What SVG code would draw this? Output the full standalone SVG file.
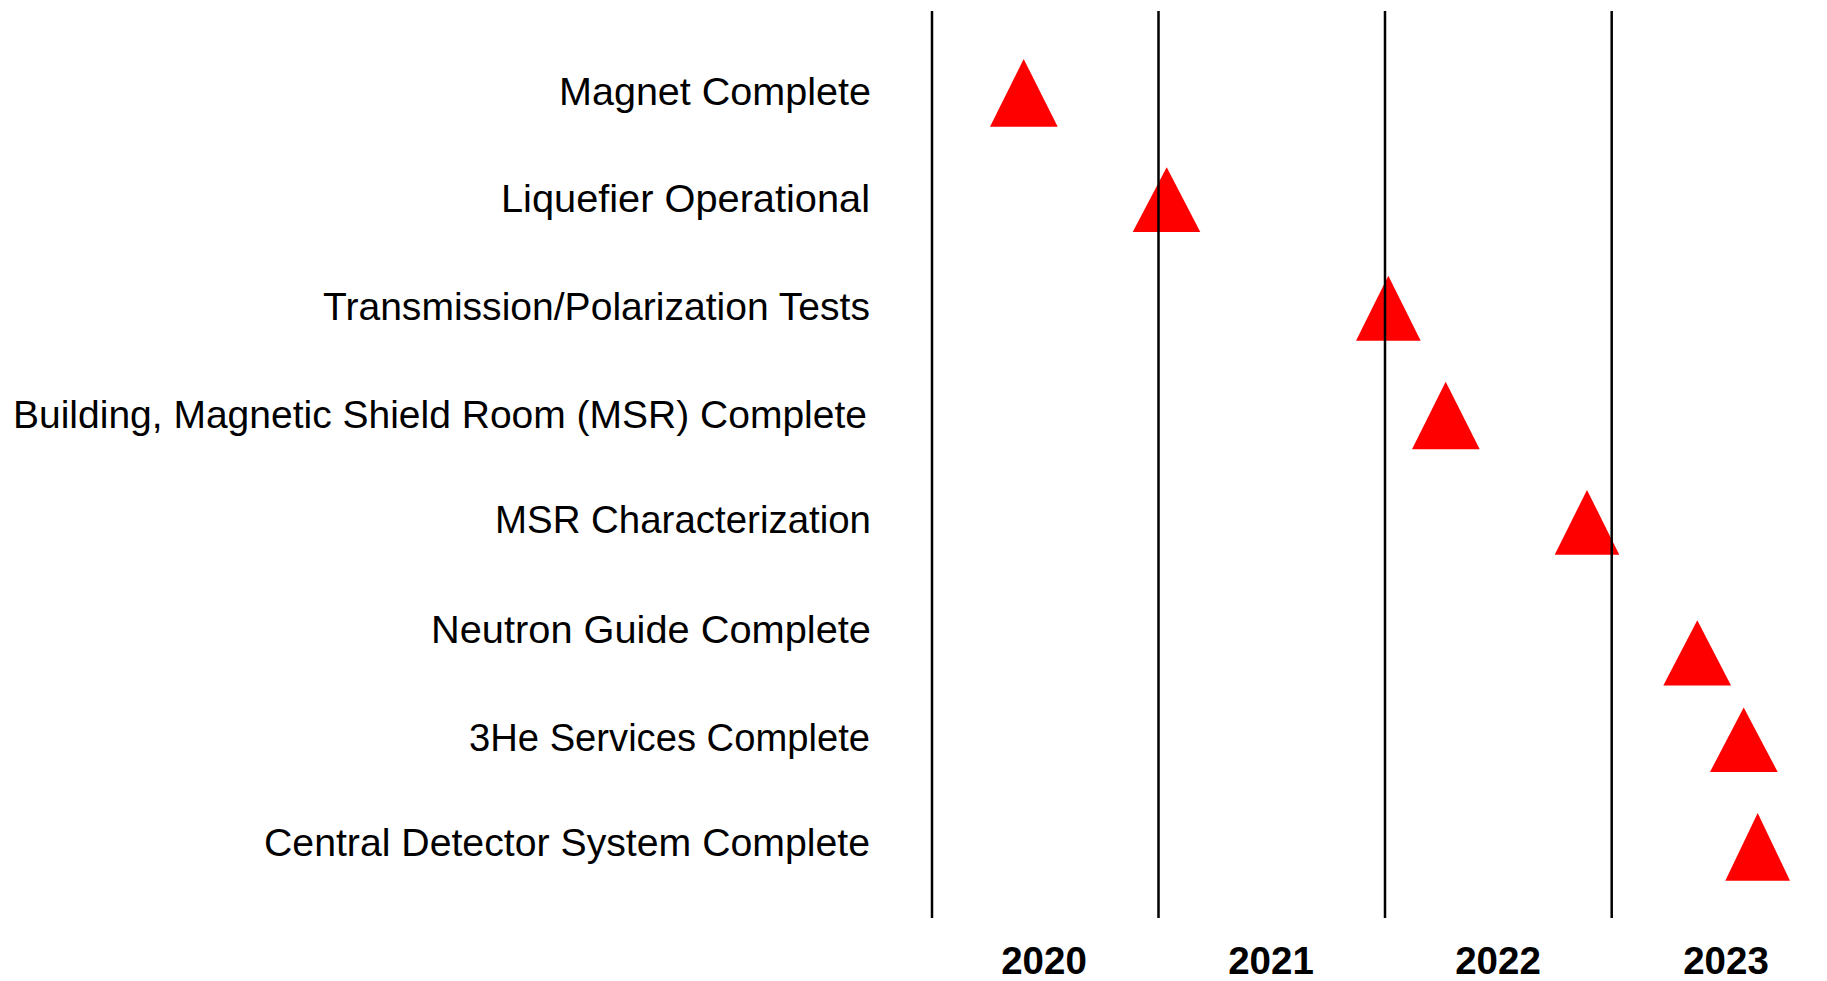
<svg xmlns="http://www.w3.org/2000/svg" width="1827" height="981" viewBox="0 0 1827 981">
<style>
.lbl{font-family:"Liberation Sans",Arial,sans-serif;font-size:39px;fill:#000;text-anchor:end}
.yr{font-family:"Liberation Sans",Arial,sans-serif;font-size:38.5px;font-weight:bold;fill:#000;text-anchor:middle}
.ms{fill:#FF0000;stroke:none}
.grid{stroke:#000;stroke-width:2.5;fill:none}
</style>
<rect width="1827" height="981" fill="#fff"/>
<g id="labels">
<g id="m1"><text class="lbl" x="871" y="105" textLength="312" lengthAdjust="spacingAndGlyphs">Magnet Complete</text></g>
<g id="m2"><text class="lbl" x="870" y="212" textLength="369" lengthAdjust="spacingAndGlyphs">Liquefier Operational</text></g>
<g id="m3"><text class="lbl" x="870" y="320" textLength="547" lengthAdjust="spacingAndGlyphs">Transmission/Polarization Tests</text></g>
<g id="m4"><text class="lbl" x="867" y="428" textLength="854" lengthAdjust="spacingAndGlyphs">Building, Magnetic Shield Room (MSR) Complete</text></g>
<g id="m5"><text class="lbl" x="871" y="533" textLength="376" lengthAdjust="spacingAndGlyphs">MSR Characterization</text></g>
<g id="m6"><text class="lbl" x="871" y="643" textLength="440" lengthAdjust="spacingAndGlyphs">Neutron Guide Complete</text></g>
<g id="m7"><text class="lbl" x="870" y="751" textLength="401" lengthAdjust="spacingAndGlyphs">3He Services Complete</text></g>
<g id="m8"><text class="lbl" x="870" y="856" textLength="606" lengthAdjust="spacingAndGlyphs">Central Detector System Complete</text></g>
</g>
<g id="milestones">
<polygon id="t1" class="ms" points="1023.7,59 1057.7,126.7 990,126.7"/>
<polygon id="t2" class="ms" points="1166.7,167.3 1200.3,232 1132.7,232"/>
<polygon id="t3" class="ms" points="1388.3,275.7 1420.7,340.7 1356,340.7"/>
<polygon id="t4" class="ms" points="1445.7,381.7 1479.7,449.3 1412,449.3"/>
<polygon id="t5" class="ms" points="1587,490 1619.3,554.7 1554.7,554.7"/>
<polygon id="t6" class="ms" points="1697.3,620.3 1731,685.4 1663.3,685.4"/>
<polygon id="t7" class="ms" points="1743.7,707.4 1777.7,772 1710,772"/>
<polygon id="t8" class="ms" points="1757.7,813 1790,880.7 1725.3,880.7"/>
</g>
<g id="connectors">
<line class="grid" x1="932" y1="11" x2="932" y2="918"/>
<line class="grid" x1="1158.5" y1="11" x2="1158.5" y2="918"/>
<line class="grid" x1="1385" y1="11" x2="1385" y2="918"/>
<line class="grid" x1="1611.7" y1="11" x2="1611.7" y2="918"/>
</g>
<g id="years">
<text class="yr" x="1044" y="974">2020</text>
<text class="yr" x="1271" y="974">2021</text>
<text class="yr" x="1498" y="974">2022</text>
<text class="yr" x="1726" y="974">2023</text>
</g>
</svg>
